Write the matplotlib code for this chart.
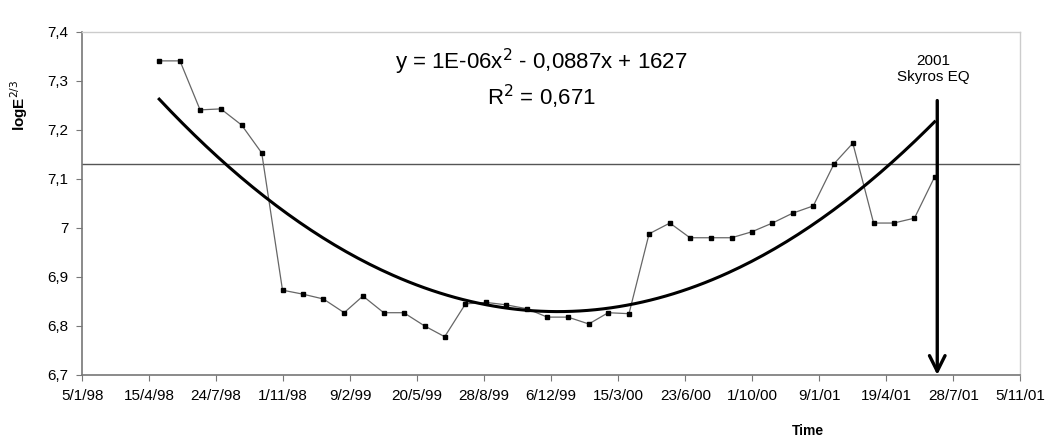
import matplotlib
matplotlib.use("Agg")
import matplotlib.pyplot as plt
import matplotlib.dates as mdates
import numpy as np
import pandas as pd

plt.rcParams['font.family'] = ['Liberation Sans', 'DejaVu Sans']

# monthly values, April 1998 - June 2001
dates = pd.date_range("1998-04-30", periods=39, freq="ME")
logE = [7.341, 7.341, 7.241, 7.243, 7.210, 7.153, 6.873, 6.865, 6.855,
        6.827, 6.861, 6.827, 6.827, 6.800, 6.778, 6.845, 6.848, 6.843,
        6.835, 6.818, 6.818, 6.804, 6.827, 6.825, 6.988, 7.010, 6.980,
        6.980, 6.980, 6.992, 7.010, 7.030, 7.045, 7.131, 7.173, 7.010,
        7.010, 7.020, 7.104]
level = 7.13
eq_date = pd.Timestamp("2001-07-04")

tick_dates = pd.date_range("1998-01-05", periods=15, freq="100D")
tick_labels = ["5/1/98", "15/4/98", "24/7/98", "1/11/98", "9/2/99", "20/5/99",
               "28/8/99", "6/12/99", "15/3/00", "23/6/00", "1/10/00", "9/1/01",
               "19/4/01", "28/7/01", "5/11/01"]
y_ticks = [6.7, 6.8, 6.9, 7.0, 7.1, 7.2, 7.3, 7.4]
y_labels = ["6,7", "6,8", "6,9", "7", "7,1", "7,2", "7,3", "7,4"]

fig = plt.figure(figsize=(10.53, 4.38), dpi=100)
ax = fig.add_axes([0.078, 0.144, 0.891, 0.783])

xnum = mdates.date2num(dates)
y = np.array(logE)

# data
ax.plot(dates, y, color="#666666", lw=0.9, marker="s", ms=2.6,
        mfc="black", mec="black", zorder=3)

# polynomial trend (2nd order)
coef = np.polyfit(xnum, y, 2)
xs = np.linspace(xnum[0], xnum[-1], 200)
ax.plot(mdates.num2date(xs), np.polyval(coef, xs), color="black", lw=2.2, zorder=4)

ax.axhline(level, color="#555555", lw=1.0, zorder=2)

ax.annotate("", xy=(mdates.date2num(eq_date), 6.7),
            xytext=(mdates.date2num(eq_date), 7.26),
            arrowprops=dict(arrowstyle="->", color="black", lw=2.4,
                            mutation_scale=28, shrinkA=0, shrinkB=0),
            zorder=5)
ax.text(mdates.date2num(eq_date) - 6, 7.355, "2001\nSkyros EQ", ha="center",
        va="top", fontsize=11, linespacing=1.15)

ax.text(0.489, 0.912, "y = 1E-06x$^{2}$ - 0,0887x + 1627", transform=ax.transAxes,
        ha="center", va="center", fontsize=16)
ax.text(0.489, 0.81, "R$^{2}$ = 0,671", transform=ax.transAxes,
        ha="center", va="center", fontsize=16)

ax.set_xlim(tick_dates[0], tick_dates[-1])
ax.set_ylim(6.7, 7.4)
ax.set_xticks(tick_dates)
ax.set_xticklabels(tick_labels, fontsize=11)
ax.set_yticks(y_ticks)
ax.set_yticklabels(y_labels, fontsize=11)
ax.tick_params(length=4, width=0.8, color="#777777", pad=6)

for s in ["left", "bottom"]:
    ax.spines[s].set_color("#777777")
    ax.spines[s].set_linewidth(1.2)
for s in ["top", "right"]:
    ax.spines[s].set_color("#cccccc")
    ax.spines[s].set_linewidth(1.0)

ax.set_ylabel("logE$^{2/3}$", fontsize=11, fontweight="bold")
ax.yaxis.set_label_coords(-0.056, 0.787)
fig.text(0.752, 0.015, "Time", fontsize=10, fontweight="bold", ha="left", va="center")

fig.savefig("out.png", dpi=100)
